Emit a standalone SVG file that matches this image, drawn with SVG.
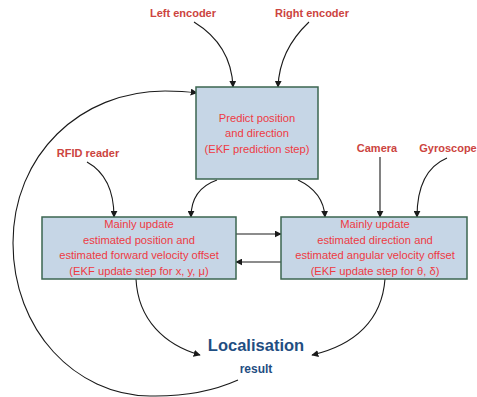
<svg xmlns="http://www.w3.org/2000/svg" width="477" height="397" viewBox="0 0 477 397">
<style>
.box{fill:#c6d6e6;stroke:#3b6650;stroke-width:1.5}
.bt{font-family:"Liberation Sans",Arial,sans-serif;font-size:11.2px;fill:#ee3a43;text-anchor:middle}
.lb{font-family:"Liberation Sans",Arial,sans-serif;font-size:11px;font-weight:bold;fill:#cc4440;text-anchor:middle}
.ed{fill:none;stroke:#1a1a1a;stroke-width:1.1;marker-end:url(#ah)}
</style>
<defs>
<marker id="ah" viewBox="0 0 10 10" refX="9" refY="5" markerWidth="7" markerHeight="7" markerUnits="userSpaceOnUse" orient="auto">
<path d="M0,0 L10,5 L0,10 z" fill="#1a1a1a"/>
</marker>
</defs>
<rect width="477" height="397" fill="#ffffff"/>
<g id="connectors">
<path class="ed" d="M194,22 C220,38 232,60 233,87"/>
<path class="ed" d="M309,22 C290,40 279,60 278,87"/>
<path class="ed" d="M238,380 Q200,397 150,396 C75,395 13,330 13,243 C13,155 80,91 165,91 Q183,91 197,93"/>
<path class="ed" d="M217,180 C200,186 191,198 191,217"/>
<path class="ed" d="M298,180 C315,188 324,200 325,217"/>
<path class="ed" d="M87,162 C105,172 114,190 114,217"/>
<path class="ed" d="M380,157 L380,217"/>
<path class="ed" d="M447,158 C428,166 417,185 417,217"/>
<path class="ed" d="M236,234 L281,234"/>
<path class="ed" d="M281,262 L236,262"/>
<path class="ed" d="M136,279 C138,320 165,345 200,355"/>
<path class="ed" d="M385,279 C382,320 355,345 312,355"/>
</g>
<g id="predict">
<rect class="box" x="196" y="87" width="122" height="92"/>
<text class="bt" x="257" y="122">Predict position</text>
<text class="bt" x="257" y="137">and direction</text>
<text class="bt" x="257" y="153">(EKF prediction step)</text>
</g>
<g id="update-position">
<rect class="box" x="42" y="217" width="194" height="62"/>
<text class="bt" x="139" y="228">Mainly update</text>
<text class="bt" x="139" y="244">estimated position and</text>
<text class="bt" x="139" y="259">estimated forward velocity offset</text>
<text class="bt" x="139" y="275">(EKF update step for x, y, μ)</text>
</g>
<g id="update-direction">
<rect class="box" x="281" y="217" width="186" height="62"/>
<text class="bt" x="375" y="228">Mainly update</text>
<text class="bt" x="375" y="244">estimated direction and</text>
<text class="bt" x="375" y="259">estimated angular velocity offset</text>
<text class="bt" x="375" y="275">(EKF update step for θ, δ)</text>
</g>
<g id="left-encoder"><text class="lb" x="183" y="17">Left encoder</text></g>
<g id="right-encoder"><text class="lb" x="312" y="17">Right encoder</text></g>
<g id="rfid"><text class="lb" x="88" y="157">RFID reader</text></g>
<g id="camera"><text class="lb" x="377" y="152">Camera</text></g>
<g id="gyroscope"><text class="lb" x="448" y="152">Gyroscope</text></g>
<g id="localisation">
<text x="256" y="351" font-family="Liberation Sans,Arial,sans-serif" font-size="16.5" font-weight="bold" fill="#1f4e82" text-anchor="middle">Localisation</text>
<text x="256" y="373" font-family="Liberation Sans,Arial,sans-serif" font-size="12" font-weight="bold" fill="#1f4e82" text-anchor="middle">result</text>
</g>
</svg>
